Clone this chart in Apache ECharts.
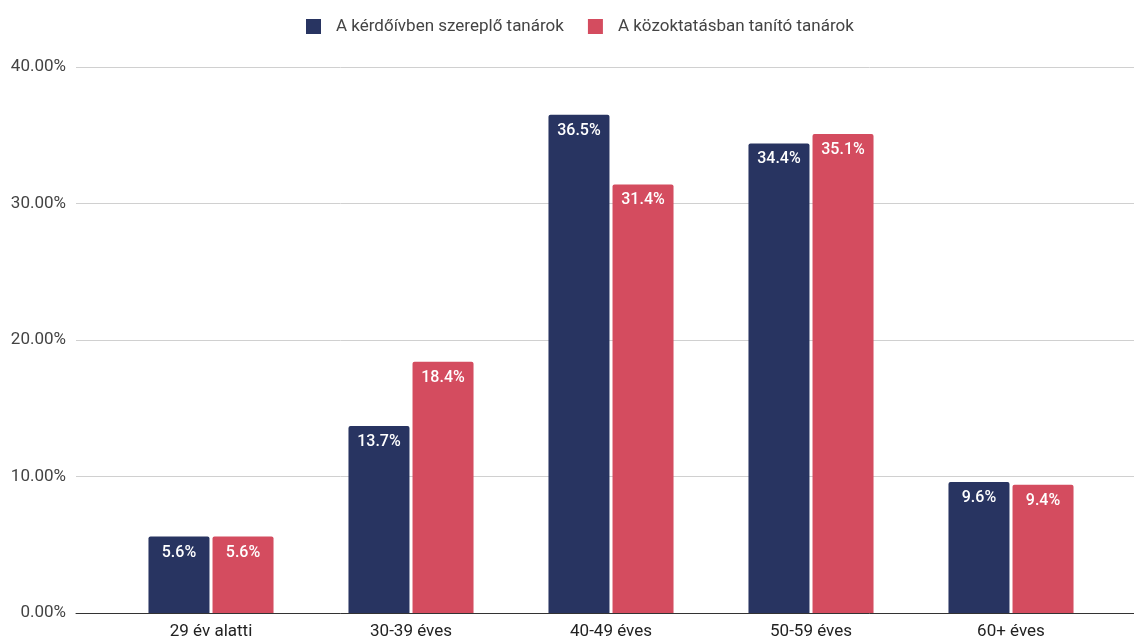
<!DOCTYPE html>
<html>
<head>
<meta charset="utf-8">
<script src="https://cdn.jsdelivr.net/npm/echarts@6/dist/echarts.min.js"></script>
<style>html,body{margin:0;padding:0;background:#fff}#c{width:1134px;height:637px}</style>
</head>
<body>
<div id="c"></div>
<script>
const categories = ['29 év alatti', '30-39 éves', '40-49 éves', '50-59 éves', '60+ éves'];
const seriesNames = ['A kérdőívben szereplő tanárok', 'A közoktatásban tanító tanárok'];
const surveyValues = [5.6, 13.7, 36.5, 34.4, 9.6];
const publicValues = [5.6, 18.4, 31.4, 35.1, 9.4];
const yTicks = [0, 10, 20, 30, 40];

const chart = echarts.init(document.getElementById('c'));
const font = 'Roboto, Arial, sans-serif';
const labelCfg = {
  show: true, position: 'insideTop', distance: 8, color: '#fff',
  fontFamily: font, fontSize: 16, fontWeight: 500,
  formatter: p => p.value.toFixed(1) + '%'
};
chart.setOption({
  animation: false,
  legend: {
    top: 13, left: 301, icon: 'rect', itemWidth: 15, itemHeight: 15, itemGap: 24,
    textStyle: { fontFamily: font, fontSize: 17, color: '#444', padding: [0, 0, 0, 10] },
    data: seriesNames
  },
  grid: [
    { left: 76, right: 0, top: 67, bottom: 24, containLabel: false, outerBoundsMode: 'none' },
    { left: 111, right: 23, top: 67, bottom: 24, containLabel: false, outerBoundsMode: 'none' }
  ],
  xAxis: [
    { gridIndex: 0, type: 'value', min: 0, max: 1, axisLine: { show: true, lineStyle: { color: '#333', width: 1 } }, axisTick: { show: false }, axisLabel: { show: false }, splitLine: { show: false } },
    { gridIndex: 1, type: 'category', data: categories, axisLine: { show: false }, axisTick: { show: false },
      axisLabel: { margin: 10, fontFamily: font, fontSize: 17, color: '#222' } }
  ],
  yAxis: [
    { gridIndex: 0, type: 'value', min: yTicks[0], max: yTicks[yTicks.length - 1], interval: 10,
      axisLine: { show: false }, axisTick: { show: false },
      axisLabel: { margin: 10, fontFamily: font, fontSize: 17, color: '#444', formatter: v => v.toFixed(2) + '%' },
      splitLine: { lineStyle: { color: '#d0d0d0', width: 1 } } },
    { gridIndex: 1, type: 'value', min: 0, max: 40, show: false, splitLine: { show: false } }
  ],
  series: [
    { name: seriesNames[0], type: 'bar', xAxisIndex: 1, yAxisIndex: 1, data: surveyValues, barWidth: 61, barGap: '5%',
      itemStyle: { color: '#283461', borderRadius: [2, 2, 0, 0] }, label: labelCfg },
    { name: seriesNames[1], type: 'bar', xAxisIndex: 1, yAxisIndex: 1, data: publicValues, barWidth: 61, barGap: '5%',
      itemStyle: { color: '#d44c5f', borderRadius: [2, 2, 0, 0] }, label: labelCfg }
  ]
});
</script>
</body>
</html>
